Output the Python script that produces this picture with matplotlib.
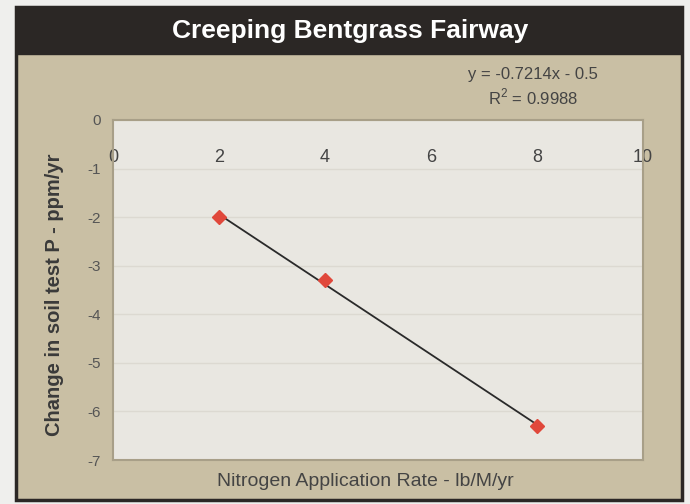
import matplotlib
matplotlib.use("Agg")
import matplotlib.pyplot as plt
from matplotlib.patches import Rectangle

plt.rcParams['font.family'] = ['Liberation Sans', 'DejaVu Sans']
plt.rcParams['axes.unicode_minus'] = False

# data
n_rate = [2, 4, 8]
p_change = [-2.0, -3.3, -6.3]
slope = -0.7214
intercept = -0.5
r2 = 0.9988
x_ticks = [0, 2, 4, 6, 8, 10]
y_ticks = [0, -1, -2, -3, -4, -5, -6, -7]

title = "Creeping Bentgrass Fairway"
xlabel = "Nitrogen Application Rate - lb/M/yr"
ylabel = "Change in soil test P - ppm/yr"

fig = plt.figure(figsize=(6.9, 5.04), dpi=100, facecolor='#efefed')

# framed tan panel and dark title band (drawn below the axes)
fig.patches.append(Rectangle((16/690, 4/504), 666/690, 493/504, transform=fig.transFigure,
                             facecolor='#c9bfa4', edgecolor='#2b2725', lw=2.5, zorder=-2))
fig.patches.append(Rectangle((16/690, 450/504), 666/690, 46/504, transform=fig.transFigure,
                             facecolor='#2b2725', edgecolor='#2b2725', lw=1, zorder=-1))
fig.text(350/690, 1 - 31/504, title, color='white', fontsize=19, fontweight='bold',
         ha='center', va='center')

ax = fig.add_axes([113/690, 1 - 460/504, 530/690, 340/504])
ax.set_facecolor('#e9e7e1')
for s in ax.spines.values():
    s.set_color('#a89f88')
    s.set_linewidth(1.5)

ax.set_xlim(0, 10)
ax.set_ylim(-7, 0)
ax.set_yticks(y_ticks)
ax.set_xticks(x_ticks)
ax.grid(axis='y', color='#dcd9d1', lw=1)
ax.set_axisbelow(True)

ax.xaxis.tick_top()
ax.tick_params(axis='x', length=0, pad=-33, labelsize=13, labelcolor='#444444')
ax.tick_params(axis='y', length=0, pad=9, labelsize=11, labelcolor='#555555')

# trendline over data range
fit_x = [min(n_rate), max(n_rate)]
fit_y = [slope * v + intercept for v in fit_x]
ax.plot(fit_x, fit_y, color='#2a2a2a', lw=1.3, zorder=3)
ax.plot(n_rate, p_change, linestyle='none', marker='D', markersize=7,
        color='#e0483b', zorder=4, clip_on=False)

fig.text(533/690, 1 - 75/504, "y = -0.7214x - 0.5", fontsize=12, color='#444444',
         ha='center', va='center')
fig.text(533/690, 1 - 97/504, r"R$^{\mathregular{2}}$ = %.4f" % r2, fontsize=12, color='#444444',
         ha='center', va='center')

fig.text(365/690, 1 - 481/504, xlabel, fontsize=14, color='#444444', ha='center', va='center')
fig.text(55/690, 1 - 295/504, ylabel, fontsize=14.5, fontweight='bold', color='#3a3a3a',
         ha='center', va='center', rotation=90)

fig.savefig('out.png', dpi=100, facecolor=fig.get_facecolor())
